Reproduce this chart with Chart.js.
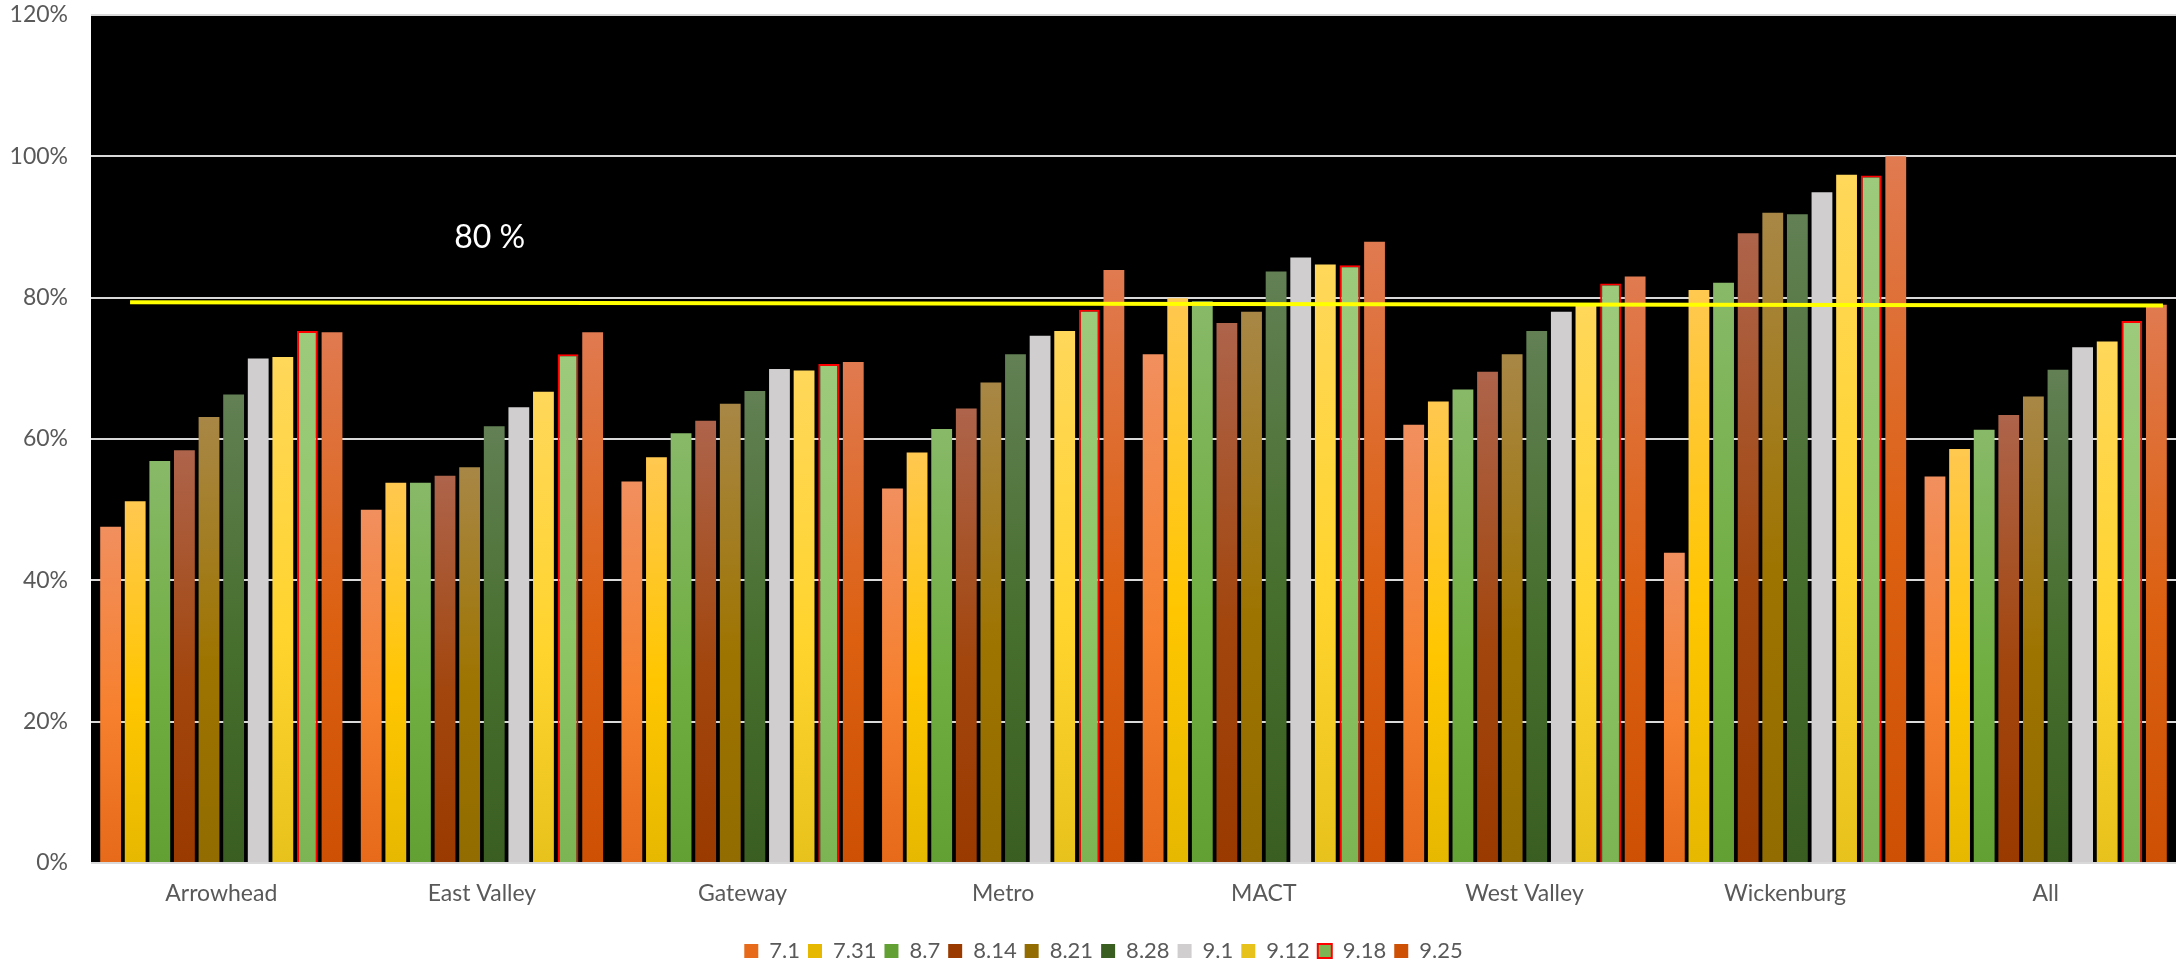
<!DOCTYPE html>
<html>
<head>
<meta charset="utf-8">
<script src="https://cdn.jsdelivr.net/npm/chart.js@4/dist/chart.umd.min.js"></script>
<style>
  html, body { margin: 0; padding: 0; background: #fff; }
  #wrap { width: 2177px; height: 965px; }
</style>
</head>
<body>
<div id="wrap"><canvas id="chart" width="2177" height="965"></canvas></div>
<script>
// data
const categories = ['Arrowhead', 'East Valley', 'Gateway', 'Metro', 'MACT', 'West Valley', 'Wickenburg', 'All'];
const seriesNames = ['7.1', '7.31', '8.7', '8.14', '8.21', '8.28', '9.1', '9.12', '9.18', '9.25'];

const v7_1  = [47.6, 50.0, 54.0, 53.0, 72.0, 62.0, 43.9, 54.7];
const v7_31 = [51.2, 53.8, 57.4, 58.1, 79.9, 65.3, 81.1, 58.6];
const v8_7  = [56.9, 53.8, 60.8, 61.4, 79.5, 67.0, 82.1, 61.3];
const v8_14 = [58.4, 54.8, 62.6, 64.3, 76.4, 69.5, 89.1, 63.4];
const v8_21 = [63.1, 56.0, 65.0, 68.0, 78.0, 72.0, 92.0, 66.0];
const v8_28 = [66.3, 61.8, 66.8, 72.0, 83.7, 75.3, 91.8, 69.8];
const v9_1  = [71.4, 64.5, 69.9, 74.6, 85.7, 78.0, 94.9, 73.0];
const v9_12 = [71.6, 66.7, 69.7, 75.3, 84.7, 79.0, 97.4, 73.8];
const v9_18 = [75.3, 72.0, 70.6, 78.3, 84.6, 82.0, 97.3, 76.7];
const v9_25 = [75.1, 75.1, 70.9, 83.9, 87.9, 83.0, 100.0, 79.0];
const seriesValues = [v7_1, v7_31, v8_7, v8_14, v8_21, v8_28, v9_1, v9_12, v9_18, v9_25];

// yellow target line (x in category units, 0 = left edge, 8 = right edge) and its label
const targetX = [0.15, 7.95];
const targetY = [79.35, 78.9];
const targetText = '80 %';
const targetTextAt = [1.53, 88.5];

const yTicks = [0, 20, 40, 60, 80, 100, 120];

// gradient colours per series: top, middle, bottom
const fills = [
  ['rgb(241,143,94)', 'rgb(246,128,46)', 'rgb(230,106,26)'],
  ['rgb(255,200,80)', 'rgb(255,198,0)', 'rgb(230,184,0)'],
  ['rgb(136,185,104)', 'rgb(112,174,66)', 'rgb(98,160,52)'],
  ['rgb(174,100,75)', 'rgb(162,70,14)', 'rgb(154,58,0)'],
  ['rgb(168,135,70)', 'rgb(158,116,0)', 'rgb(146,108,0)'],
  ['rgb(98,128,84)', 'rgb(70,110,44)', 'rgb(58,94,34)'],
  ['rgb(208,206,206)', 'rgb(208,206,206)', 'rgb(208,206,206)'],
  ['rgb(255,215,90)', 'rgb(255,212,45)', 'rgb(232,194,28)'],
  ['rgb(157,202,124)', 'rgb(142,198,102)', 'rgb(124,180,84)'],
  ['rgb(224,122,80)', 'rgb(220,96,16)', 'rgb(205,80,4)']
];

const FONT = 'Lato';
const GREY = '#595959';

function barFill(i) {
  return (ctx) => {
    const c = fills[i];
    if (ctx.type !== 'data' || !ctx.parsed) return c[1];
    const y = ctx.chart.scales.y;
    if (!y) return c[1];
    const top = y.getPixelForValue(ctx.parsed.y);
    const bottom = y.getPixelForValue(0);
    if (!isFinite(top) || !isFinite(bottom) || bottom - top < 1) return c[1];
    const g = ctx.chart.ctx.createLinearGradient(0, top, 0, bottom);
    g.addColorStop(0, c[0]);
    g.addColorStop(0.55, c[1]);
    g.addColorStop(1, c[2]);
    return g;
  };
}

// bars sit at the middle of each category slot on a 0..8 linear axis
const datasets = seriesNames.map((name, i) => ({
  type: 'bar',
  label: name,
  data: seriesValues[i].map((v, j) => ({ x: j + 0.5, y: v })),
  backgroundColor: barFill(i),
  borderColor: name === '9.18' ? '#FF0000' : 'rgba(0,0,0,0)',
  borderWidth: name === '9.18' ? 2 : 0,
  categoryPercentage: 0.944,
  barPercentage: 0.846,
  order: 2
}));

datasets.push({
  type: 'line',
  label: 'target',
  data: targetX.map((x, i) => ({ x: x, y: targetY[i] })),
  borderColor: '#FFFF00',
  borderWidth: 4,
  pointRadius: 0,
  fill: false,
  order: 1
});

const plotBackground = {
  id: 'plotBackground',
  beforeDraw(chart) {
    const a = chart.chartArea;
    const ctx = chart.ctx;
    ctx.save();
    ctx.fillStyle = '#000';
    ctx.fillRect(a.left, a.top, a.right - a.left, a.bottom - a.top);
    ctx.restore();
  }
};

// nudge the legend lower and a bit left, like the original
const legendShift = {
  id: 'legendShift',
  afterLayout(chart) {
    const lg = chart.legend;
    if (!lg) return;
    lg.top += 19; lg.bottom += 19;
    lg.left -= 30; lg.right -= 30;
  }
};

const targetLabel = {
  id: 'targetLabel',
  afterDatasetsDraw(chart) {
    const ctx = chart.ctx;
    const x = chart.scales.x.getPixelForValue(targetTextAt[0]);
    const y = chart.scales.y.getPixelForValue(targetTextAt[1]);
    ctx.save();
    ctx.fillStyle = '#fff';
    ctx.font = '32px ' + FONT;
    ctx.textAlign = 'center';
    ctx.textBaseline = 'middle';
    ctx.fillText(targetText, x, y);
    ctx.restore();
  }
};

new Chart(document.getElementById('chart'), {
  type: 'bar',
  data: { datasets: datasets },
  options: {
    responsive: false,
    animation: false,
    layout: { padding: { top: 15, right: 1, left: 0, bottom: 12 } },
    plugins: {
      legend: {
        position: 'bottom',
        fullSize: false,
        labels: {
          font: { family: FONT, size: 22 },
          color: GREY,
          boxWidth: 14,
          boxHeight: 14,
          padding: 8,
          filter: (item) => item.text !== 'target'
        }
      },
      tooltip: { enabled: false }
    },
    scales: {
      x: {
        type: 'linear',
        min: 0,
        max: categories.length,
        offset: false,
        afterBuildTicks(axis) { axis.ticks = categories.map((c, i) => ({ value: i + 0.5 })); },
        grid: { display: false, drawTicks: false, offset: false },
        border: { display: false },
        ticks: {
          font: { family: FONT, size: 23 },
          color: GREY,
          padding: 17,
          autoSkip: false,
          maxRotation: 0,
          minRotation: 0,
          callback: (v) => categories[Math.floor(v)]
        },
        afterFit(axis) { axis.height = 50; axis.paddingLeft = 0; axis.paddingRight = 0; }
      },
      y: {
        min: 0,
        max: 120,
        afterBuildTicks(axis) { axis.ticks = yTicks.map(v => ({ value: v })); },
        grid: { color: '#D9D9D9', lineWidth: 2, drawTicks: false },
        border: { display: false },
        ticks: {
          font: { family: FONT, size: 23 },
          color: GREY,
          padding: 23,
          callback: (v) => v + '%'
        },
        afterFit(axis) { axis.width = 91; axis.paddingTop = 0; axis.paddingBottom = 0; }
      }
    }
  },
  plugins: [plotBackground, legendShift, targetLabel]
});
</script>
</body>
</html>
